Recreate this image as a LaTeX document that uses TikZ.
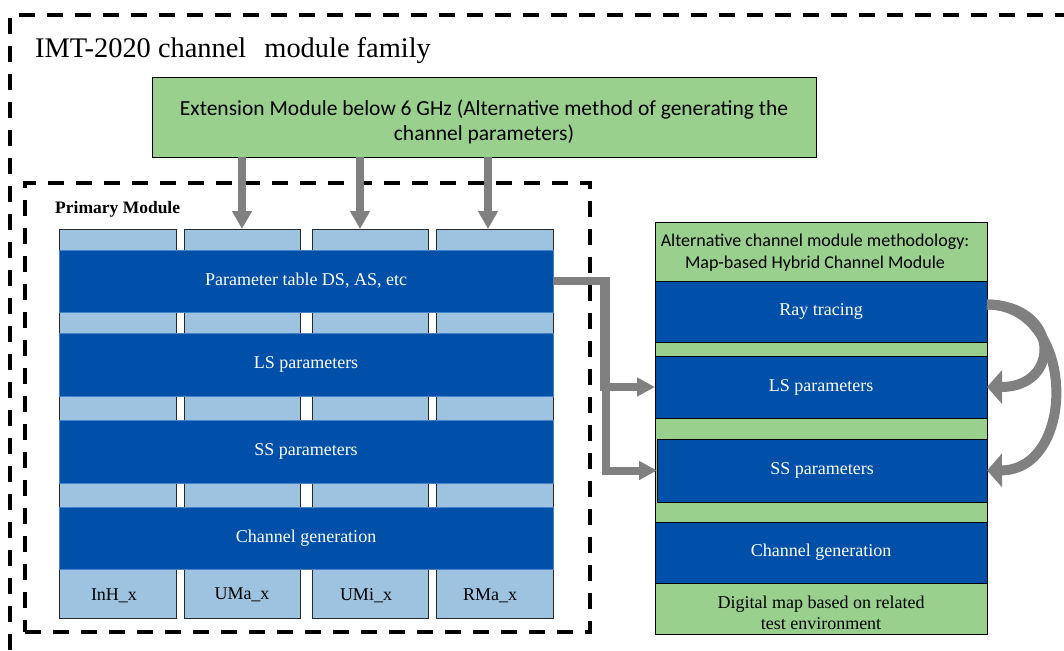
\documentclass[tikz,border=0pt]{standalone}
\usepackage{fontspec}
\setmainfont{Liberation Serif}
\newfontfamily\carlito{Carlito}
\usetikzlibrary{arrows.meta}
\definecolor{dblue}{RGB}{0,80,170}
\definecolor{lblue}{RGB}{157,195,224}
\definecolor{lgreen}{RGB}{153,208,142}
\definecolor{agray}{RGB}{128,128,128}
\definecolor{bedge}{RGB}{70,130,200}
\definecolor{cedge}{RGB}{40,40,40}
\begin{document}
\begin{tikzpicture}[x=1pt,y=-1pt,
  box/.style={draw, line width=0.9pt, inner sep=0pt, outer sep=0pt, anchor=north west},
  colbox/.style={box, fill=lblue, draw=cedge, minimum height=389pt},
  band/.style={box, fill=dblue, draw=bedge, line width=0.6pt, minimum width=494pt, text=white, font=\fontsize{18}{20}\selectfont},
  rband/.style={box, fill=dblue, draw=black, minimum width=332pt, text=white, font=\fontsize{18}{20}\selectfont},
  dashline/.style={draw=black, line width=4.5pt, dash pattern=on 16pt off 12pt},
  garrow/.style={draw=agray, line width=8pt, -{Triangle[width=19pt,length=18pt]}},
  conn/.style={draw=agray, line width=8pt, line join=miter, -{Triangle[width=18pt,length=18pt]}},
  carrow/.style={draw=agray, line width=10pt, -{Triangle[width=33pt,length=15pt]}},
  lab/.style={anchor=base, font=\fontsize{18}{20}\selectfont, inner sep=0pt}
]
\useasboundingbox (0,0) rectangle (1064,650);

% outer family frame
\draw[dashline] (10,650) -- (10,15) -- (1064,15);
\node[anchor=base west, inner sep=0pt, font=\fontsize{28.4}{30}\selectfont] (title) at (35,58)
  {IMT-2020 channel\hspace{11pt} module family};

% extension module
\node[box, fill=lgreen, minimum width=664pt, minimum height=80pt, align=center,
      font=\carlito\fontsize{21.5}{25}\selectfont] (ext) at (152,77)
  {\rule{0pt}{26pt}Extension Module below 6 GHz (Alternative method of generating the\\channel parameters)};

% primary module
\node[box, dashline, minimum width=565pt, minimum height=449pt] (primary) at (25,183) {};
\node[anchor=base west, inner sep=0pt, font=\bfseries\fontsize{17.5}{19}\selectfont] (ptitle) at (55,213) {Primary Module};

\node[colbox, minimum width=117pt] (c1) at (59,229) {};
\node[colbox, minimum width=116pt] (c2) at (184,229) {};
\node[colbox, minimum width=116pt] (c3) at (312,229) {};
\node[colbox, minimum width=117pt] (c4) at (436,229) {};

\node[band, minimum height=62pt] (b1) at (59,250) {Parameter table DS, AS, etc};
\node[band, minimum height=63pt] (b2) at (59,333) {LS parameters};
\node[band, minimum height=63pt] (b3) at (59,420) {SS parameters};
\node[band, minimum height=62pt] (b4) at (59,507) {Channel generation};

\node[lab] (l1) at (114,600) {InH\_x};
\node[lab] (l2) at (242,599) {UMa\_x};
\node[lab] (l3) at (366,600) {UMi\_x};
\node[lab] (l4) at (490,600) {RMa\_x};

% arrows from extension module
\draw[garrow] (242,0 |- ext.south) -- (242,0 |- c2.north);
\draw[garrow] (360,0 |- ext.south) -- (360,0 |- c3.north);
\draw[garrow] (488,0 |- ext.south) -- (488,0 |- c4.north);

% alternative module
\node[box, fill=lgreen, minimum width=332pt, minimum height=412pt] (alt) at (655,222) {};
\node[align=center, inner sep=0pt, font=\carlito\fontsize{18}{22}\selectfont] (althead) at (815,253)
  {Alternative channel module methodology:\\Map-based Hybrid Channel Module};
\node[rband, minimum height=61pt] (rt) at (655,281) {Ray tracing};
\node[rband, minimum height=62pt] (ls) at (655,356) {LS parameters};
\node[rband, minimum height=63pt, minimum width=330pt] (ss) at (657,439) {SS parameters};
\node[rband, minimum height=61pt] (cg) at (655,522) {Channel generation};
\node[align=center, inner sep=0pt, font=\fontsize{18}{21}\selectfont] (dm) at (821,613)
  {Digital map based on related\\test environment};

% connectors from primary module to alternative module
\draw[conn] (b1.east) -- (604,0 |- b1.east) |- (ls.west);
\draw[conn] (b1.east) -- (606,0 |- b1.east) |- (ss.west);

% curved arrows
\coordinate (rts) at ([yshift=7pt]rt.east);
\draw[carrow] (rts) .. controls (1060,305) and (1062,387) .. (ls.east);
\draw[carrow] (rts) .. controls (1077,305) and (1077,470) .. (ss.east);
\end{tikzpicture}
\end{document}
